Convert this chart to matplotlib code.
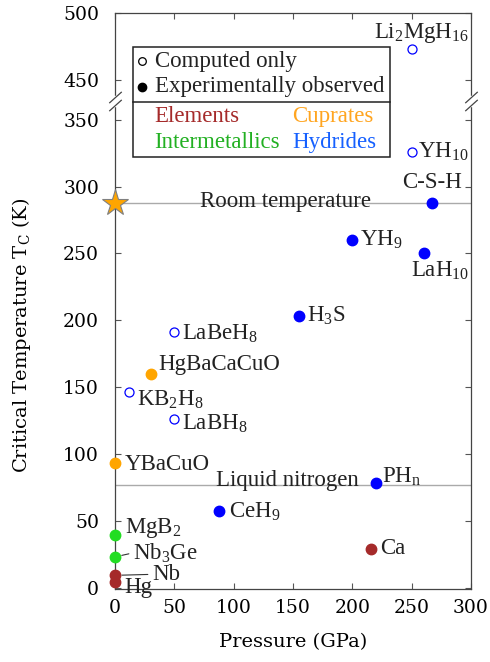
import numpy as np
import matplotlib.pyplot as plt
from matplotlib.patches import Rectangle

plt.rcParams['font.family'] = 'DejaVu Serif'
plt.rcParams['mathtext.fontset'] = 'custom'
plt.rcParams['mathtext.rm'] = 'Liberation Serif'
plt.rcParams['mathtext.it'] = 'Liberation Serif:italic'

# superconductors: name, pressure (GPa), Tc (K), family, computed-only flag
labels = ['Hg', 'Nb', 'Ca', 'Nb$_3$Ge', 'MgB$_2$', 'YBaCuO', 'HgBaCaCuO',
          'H$_3$S', 'YH$_9$', 'LaH$_{10}$', 'C-S-H', 'CeH$_9$', 'PH$_\\mathrm{n}$',
          'Li$_2$MgH$_{16}$', 'YH$_{10}$', 'LaBeH$_8$', 'KB$_2$H$_8$', 'LaBH$_8$']
pressure = [0, 0, 216, 0, 0, 0, 30, 155, 200, 260, 267, 88, 220, 250, 250, 50, 12, 50]
tc = [4.2, 9.2, 29, 23, 39, 93, 160, 203, 260, 250, 288, 57, 78, 473, 326, 191, 146, 126]
family = ['Elements'] * 3 + ['Intermetallics'] * 2 + ['Cuprates'] * 2 + ['Hydrides'] * 11
computed = [False] * 13 + [True] * 5

room_temp = 288
liquid_n2 = 77

marker_colors = {'Elements': '#a52a2a', 'Intermetallics': '#22dd22',
                 'Cuprates': '#ffa500', 'Hydrides': '#0000ff'}
text_colors = {'Elements': '#a52a2a', 'Intermetallics': '#22b022',
               'Cuprates': '#ffa520', 'Hydrides': '#1560ff'}

# label placement: (dx px, dy px, ha)
label_pos = {
    'Hg': (9, -5, 'left'), 'Nb': (37, 1, 'left'), 'Ca': (9, 0, 'left'),
    'Nb$_3$Ge': (18, 4, 'left'), 'MgB$_2$': (10, 7, 'left'),
    'YBaCuO': (10, -1, 'left'), 'HgBaCaCuO': (8, 9, 'left'),
    'H$_3$S': (8, 0, 'left'), 'YH$_9$': (8, 0, 'left'),
    'LaH$_{10}$': (17, -17, 'center'), 'C-S-H': (0, 20, 'center'),
    'CeH$_9$': (10, 0, 'left'), 'PH$_\\mathrm{n}$': (6, 7, 'left'),
    'Li$_2$MgH$_{16}$': (10, 16, 'center'), 'YH$_{10}$': (6, 0, 'left'),
    'LaBeH$_8$': (8, -2, 'left'), 'KB$_2$H$_8$': (8, -7, 'left'),
    'LaBH$_8$': (8, -5, 'left'),
}
leader = ['Nb$_3$Ge', 'Nb']

# broken y axis: 366..436 K is cut out
BREAK_LO, BREAK_HI = 366, 436
GAP = BREAK_HI - BREAK_LO


def fwd(y):
    y = np.asarray(y, dtype=float)
    return np.where(y <= BREAK_LO, y, np.where(y >= BREAK_HI, y - GAP, BREAK_LO))


def inv(t):
    t = np.asarray(t, dtype=float)
    return np.where(t <= BREAK_LO, t, t + GAP)


fig = plt.figure(figsize=(4.9, 6.62), dpi=100)
ax = fig.add_axes([0.2347, 0.1103, 0.7265, 0.8705])
ax.set_yscale('function', functions=(fwd, inv))
ax.set_xlim(0, 300)
ax.set_ylim(-1, 500)
ax.set_xticks(range(0, 301, 50))
ax.set_yticks(list(range(0, 351, 50)) + [450, 500])
ax.tick_params(direction='in', top=True, right=True, length=4, width=0.8,
               labelsize=13.5, color='#555555')
ax.tick_params(axis='x', pad=7)
ax.tick_params(axis='y', pad=11.5)
for s in ax.spines.values():
    s.set_linewidth(0.9)
    s.set_color('#444444')

# reference temperatures
ax.axhline(room_temp, color='#aaaaaa', lw=1, zorder=1)
ax.axhline(liquid_n2, color='#aaaaaa', lw=1, zorder=1)
ax.annotate('Room temperature', (72, room_temp), xytext=(0, 1), textcoords='offset pixels',
            ha='left', va='center', fontsize=16.5, family='Liberation Serif', color='#222222')
ax.annotate('Liquid nitrogen', (85, liquid_n2), xytext=(0, 4), textcoords='offset pixels',
            ha='left', va='center', fontsize=16.5, family='Liberation Serif', color='#222222')
ax.plot(0, room_temp, '*', ms=20, color='orange', mec='gray', mew=0.8, clip_on=False, zorder=6)

# data points
for name, p, t, fam, comp in zip(labels, pressure, tc, family, computed):
    c = marker_colors[fam]
    if comp:
        ax.plot(p, t, 'o', ms=6.5, mfc='white', mec=c, mew=0.9, clip_on=False, zorder=4)
    else:
        ax.plot(p, t, 'o', ms=7.5, color=c, clip_on=False, zorder=4)
    dx, dy, ha = label_pos[name]
    arrow = None
    if name in leader:
        arrow = dict(arrowstyle='-', color='#333333', lw=0.8, shrinkA=1, shrinkB=5,
                     relpos=(0, 0.5))
    ax.annotate(name, (p, t), xytext=(dx, dy), textcoords='offset pixels',
                ha=ha, va='center', fontsize=16.5, family='Liberation Serif',
                color='#222222', arrowprops=arrow, zorder=5)

# break marks on both spines, with the spine cut between them
yaxis_tr = ax.get_yaxis_transform()
ax.plot([0, 0], [BREAK_LO - 5, BREAK_HI + 1], transform=yaxis_tr, color='white',
        lw=2.5, clip_on=False, zorder=6)
ax.plot([1, 1], [BREAK_LO - 5, BREAK_HI + 1], transform=yaxis_tr, color='white',
        lw=2.5, clip_on=False, zorder=6)
for yb in (BREAK_LO - 5, BREAK_HI + 1):
    ax.plot([0, 1], [yb, yb], transform=yaxis_tr, ls='none',
            marker=[(-1, -0.9), (1, 0.9)], ms=9, mec='#444444', mew=0.9,
            clip_on=False, zorder=7)

# legend box
lx0, lx1, ly0, ly1, sep = 0.0497, 0.7725, 0.7501, 0.9399, 0.8445
ax.add_patch(Rectangle((lx0, ly0), lx1 - lx0, ly1 - ly0, transform=ax.transAxes,
                       fc='white', ec='#222222', lw=1.1, zorder=8))
ax.plot([lx0, lx1], [sep, sep], transform=ax.transAxes, color='#222222', lw=1.1, zorder=9)
ax.plot(0.0758, 0.9162, 'o', ms=5.5, mfc='white', mec='k', mew=0.9,
        transform=ax.transAxes, zorder=9)
ax.plot(0.0758, 0.8716, 'o', ms=6, color='k', transform=ax.transAxes, zorder=9)
legend_text = dict(transform=ax.transAxes, ha='left', va='center', fontsize=16.5,
                   family='Liberation Serif', zorder=9)
ax.text(0.1124, 0.9162, 'Computed only', color='#222222', **legend_text)
ax.text(0.1124, 0.8716, 'Experimentally observed', color='#222222', **legend_text)
ax.text(0.1096, 0.8191, 'Elements', color=text_colors['Elements'], **legend_text)
ax.text(0.1096, 0.7745, 'Intermetallics', color=text_colors['Intermetallics'], **legend_text)
ax.text(0.4963, 0.8191, 'Cuprates', color=text_colors['Cuprates'], **legend_text)
ax.text(0.4992, 0.7745, 'Hydrides', color=text_colors['Hydrides'], **legend_text)

ax.set_xlabel('Pressure (GPa)', fontsize=14, labelpad=12)
ax.set_ylabel('Critical Temperature T$_\\mathrm{C}$ (K)', fontsize=14,
              math_fontfamily='dejavuserif')
ax.yaxis.set_label_coords(-0.229, 0.4407)

fig.savefig('out.png', dpi=100)
